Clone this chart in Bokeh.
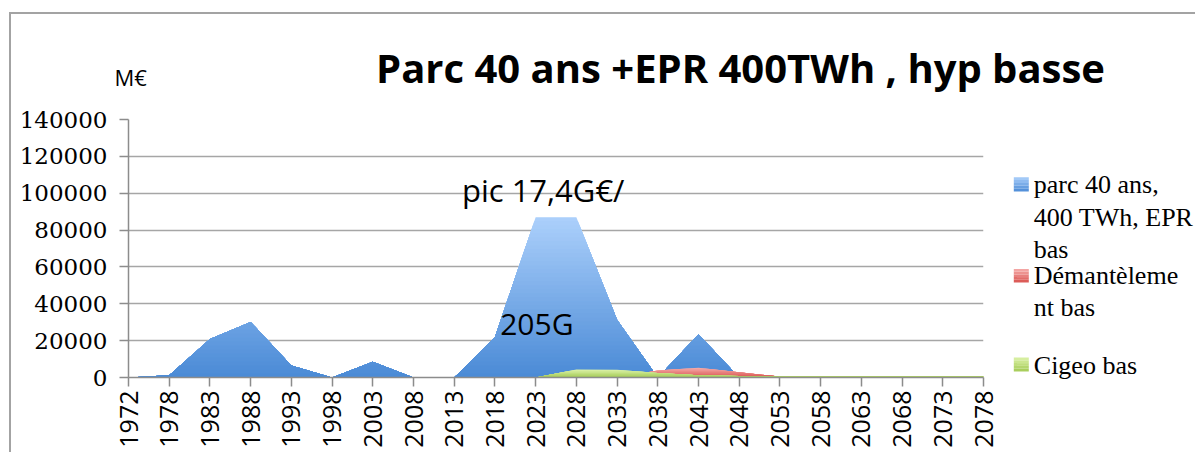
import numpy as np
from bokeh.plotting import figure
from bokeh.models import Range1d, FixedTicker, Label
from bokeh.core.properties import value
from bokeh.layouts import column, row
from bokeh.embed import file_html
from bokeh.resources import INLINE

# ---------------- data ----------------
years = ["1972", "1978", "1983", "1988", "1993", "1998", "2003", "2008", "2013", "2018", "2023",
         "2028", "2033", "2038", "2043", "2048", "2053", "2058", "2063", "2068", "2073", "2078"]
parc = [0, 1250, 20900, 30100, 6500, 0, 8500, 0, 0, 22000, 87000,
        87000, 31300, 0, 23500, 0, 0, 0, 0, 0, 0, 0]
demantelement = [0, 0, 0, 0, 0, 0, 0, 0, 0, 0, 0,
                 0, 0, 3800, 5300, 2800, 500, 0, 0, 0, 0, 0]
cigeo = [0, 0, 0, 0, 0, 0, 0, 0, 0, 0, 0,
         4300, 4200, 2500, 1200, 800, 500, 500, 500, 500, 500, 500]
y_ticks = [0, 20000, 40000, 60000, 80000, 100000, 120000, 140000]
y_labels = ["0", "20000", "40000", "60000", "80000", "100000", "120000", "140000"]
series_names = ["parc 40 ans,\n400 TWh, EPR\nbas", "Démantèleme\nnt  bas", "Cigeo bas"]
title_text = "Parc 40 ans +EPR 400TWh , hyp basse"
unit_text = "M€"
note_peak = "pic 17,4G€/"
note_total = "205G"

# gradient colours (bottom, top) per series
grad = {
    "parc": ("#4a8ad6", "#acd0fb"),
    "dem": ("#d9534f", "#f6aeac"),
    "cig": ("#a3ca55", "#dcf2a8"),
}


def hex2rgb(h):
    h = h.lstrip("#")
    return np.array([int(h[i:i + 2], 16) for i in (0, 2, 4)], dtype=float)


def mix(c0, c1, t):
    a, b = hex2rgb(c0), hex2rgb(c1)
    c = a + (b - a) * t
    return "#%02x%02x%02x" % tuple(int(round(v)) for v in c)


def clipped(vals, hi):
    xs, ys = [], []
    for i, v in enumerate(vals):
        if i > 0:
            v0 = vals[i - 1]
            if (v0 - hi) * (v - hi) < 0:
                t = (hi - v0) / (v - v0)
                xs.append(i - 1 + t)
                ys.append(hi)
        xs.append(i)
        ys.append(min(v, hi))
    return xs, ys


# page geometry (canvas origin after margin + border)
OX, OY = 11, 14
TOTAL_W = 1184
HEAD_H = 90
MAIN_W = 117 + 855 + 18
BODY_H = 15 + 258 + 75


def blank_fig(x0, y0, w, h):
    # a figure whose frame fills the canvas; data units = page pixels (y downward)
    f = figure(width=w, height=h, x_range=Range1d(x0, x0 + w), y_range=Range1d(y0 + h, y0),
               x_axis_type=None, y_axis_type=None, output_backend="svg",
               toolbar_location=None, title=None, min_border=0,
               min_border_left=0, min_border_right=0, min_border_top=0, min_border_bottom=0,
               frame_align=False)
    f.outline_line_color = None
    f.xgrid.visible = False
    f.ygrid.visible = False
    f.background_fill_color = "white"
    f.border_fill_color = "white"
    return f


# ---------------- header (title + unit) ----------------
head = blank_fig(OX, OY, TOTAL_W, HEAD_H)
head.text(x=[740], y=[67], text=[title_text],
          text_font=value("Open Sans"), text_font_style="bold", text_font_size="40px",
          text_align="center", text_baseline="middle", text_color="black")
head.text(x=[114], y=[76], text=[unit_text],
          text_font=value("Open Sans"), text_font_size="22px",
          text_align="left", text_baseline="middle", text_color="black")

# ---------------- main chart ----------------
p = figure(frame_width=855, frame_height=258,
           min_border_left=117, min_border_right=18, min_border_top=15, min_border_bottom=75,
           x_range=Range1d(0, len(years) - 1), y_range=Range1d(0, 140000),
           output_backend="svg", toolbar_location=None, title=None, frame_align=False)
p.outline_line_color = None
p.background_fill_color = "white"
p.border_fill_color = "white"

for vals, key, nb in ((parc, "parc", 40), (demantelement, "dem", 12), (cigeo, "cig", 12)):
    vmax = max(vals)
    c0, c1 = grad[key]
    for k in range(nb, 0, -1):
        hi = vmax * k / nb
        xs, ys = clipped(vals, hi)
        col = mix(c0, c1, (k - 0.5) / nb)
        p.varea(x=xs, y1=[0] * len(xs), y2=ys, fill_color=col, fill_alpha=1.0)

p.xgrid.visible = False
p.ygrid.ticker = FixedTicker(ticks=y_ticks)
p.ygrid.grid_line_color = "#a6a6a6"
p.ygrid.grid_line_width = 1.5

yax = p.yaxis[0]
yax.ticker = FixedTicker(ticks=y_ticks)
yax.major_label_overrides = {t: l for t, l in zip(y_ticks, y_labels)}
yax.major_label_text_font = "DejaVu Serif"
yax.major_label_text_font_size = "23px"
yax.major_label_text_color = "black"
yax.major_label_standoff = 12
yax.major_tick_out = 9
yax.major_tick_in = 0
yax.minor_tick_out = 0
yax.minor_tick_in = 0
yax.axis_line_color = "#8c8c8c"
yax.axis_line_width = 1.5
yax.major_tick_line_color = "#8c8c8c"
yax.major_tick_line_width = 1.5

xax = p.xaxis[0]
xax.ticker = FixedTicker(ticks=list(range(len(years))))
xax.major_label_overrides = {i: y for i, y in enumerate(years)}
xax.major_label_orientation = np.pi / 2
xax.major_label_text_font = "Open Sans"
xax.major_label_text_font_size = "25px"
xax.major_label_text_color = "black"
xax.major_label_standoff = 4
xax.major_tick_out = 9
xax.major_tick_in = 0
xax.minor_tick_out = 0
xax.minor_tick_in = 0
xax.axis_line_color = "#8c8c8c"
xax.axis_line_width = 1.5
xax.major_tick_line_color = "#8c8c8c"
xax.major_tick_line_width = 1.5

p.add_layout(Label(x=8.19, y=101500, text=note_peak,
                   text_font="Open Sans", text_font_size="31px",
                   text_align="left", text_baseline="middle", text_color="black"))
p.add_layout(Label(x=9.13, y=29300, text=note_total,
                   text_font="Open Sans", text_font_size="30px",
                   text_align="left", text_baseline="middle", text_color="black"))

# ---------------- legend ----------------
leg = blank_fig(OX + MAIN_W, OY + HEAD_H, TOTAL_W - MAIN_W, BODY_H)
leg_rows = [(series_names[0], [184.0, 217.0, 249.0]),
            (series_names[1], [275.0, 307.0]),
            (series_names[2], [365.0])]
lx, ly, lt = [], [], []
for (name, centers) in leg_rows:
    for line, c in zip(name.split("\n"), centers):
        lx.append(1033.3)
        ly.append(c)
        lt.append(line)
leg.text(x=lx, y=ly, text=lt, text_font=value("Liberation Serif"), text_font_size="26px",
         text_align="left", text_baseline="middle", text_color="black")

squares = [("parc", 176.7, 191.0), ("dem", 268.5, 282.0), ("cig", 357.0, 371.0)]
for key, top, bot in squares:
    c0, c1 = grad[key]
    n = 5
    for j in range(n):
        b0 = bot - (bot - top) * j / n
        b1 = bot - (bot - top) * (j + 1) / n
        leg.quad(left=1013.3, right=1028.3, bottom=b0, top=b1,
                 fill_color=mix(c0, c1, (j + 0.5) / n), line_color=None)

layout = column(head, row(p, leg, spacing=0), spacing=0,
                styles={"border-left": "2px solid #a3a3a3", "border-top": "2px solid #a3a3a3",
                        "margin-left": "9px", "margin-top": "12px"})

open("out.html", "w").write(file_html(layout, INLINE))
